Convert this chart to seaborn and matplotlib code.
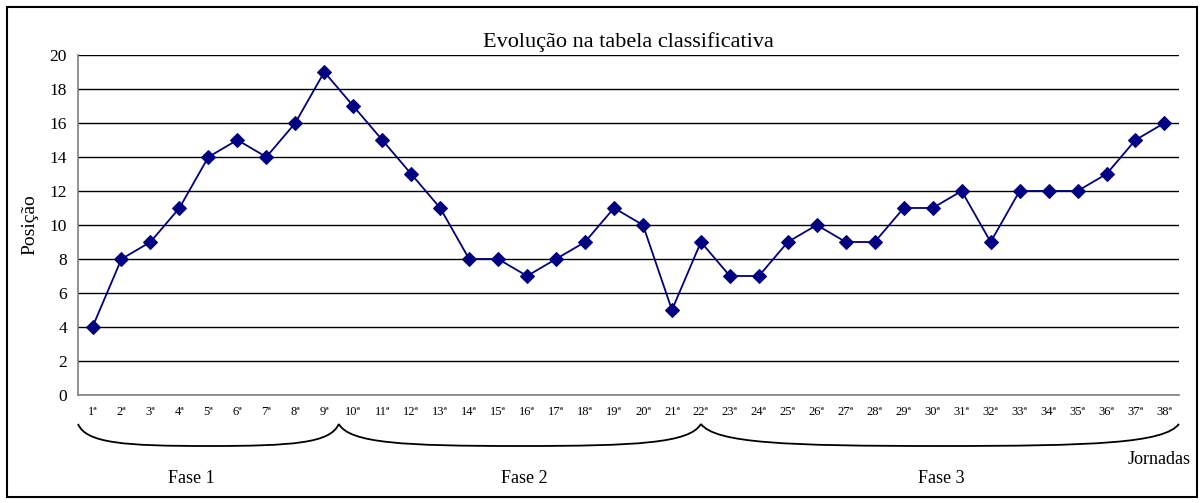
import numpy as np
import pandas as pd
import matplotlib
matplotlib.use("Agg")
import matplotlib.pyplot as plt
import matplotlib.transforms as mtransforms
from matplotlib.path import Path
from matplotlib.patches import PathPatch, Rectangle
import seaborn as sns

# data
jornadas = [f"{i}ª" for i in range(1, 39)]
posicao = [4, 8, 9, 11, 14, 15, 14, 16, 19, 17, 15, 13, 11, 8, 8, 7, 8, 9, 11, 10,
           5, 9, 7, 7, 9, 10, 9, 9, 11, 11, 12, 9, 12, 12, 12, 13, 15, 16]
fases = ["Fase 1", "Fase 2", "Fase 3"]
fase_limites = [(-0.5, 8.5), (8.5, 21), (21, 37.5)]  # brace ends in category units
fase_texto_x = [3.4, 14.9, 29.3]

df = pd.DataFrame({"jornada": np.arange(len(posicao)), "posicao": posicao})

sns.set_style("white")
plt.rcParams["font.family"] = ["Liberation Serif", "DejaVu Serif"]
plt.rcParams["text.color"] = "black"
plt.rcParams["axes.labelcolor"] = "black"
plt.rcParams["xtick.labelcolor"] = "black"
plt.rcParams["ytick.labelcolor"] = "black"

fig = plt.figure(figsize=(12.04, 5.03), dpi=100)
ax = fig.add_axes([0.0648, 0.2147, 0.9144, 0.676])

sns.lineplot(data=df, x="jornada", y="posicao", ax=ax, color="#000080",
             marker="D", markersize=7, markeredgecolor="#000080", linewidth=1.3)

ax.set_xlim(-0.5, len(posicao) - 0.5)
ax.set_ylim(0, 20)
ax.set_yticks(np.arange(0, 21, 2))
ax.yaxis.grid(True, color="black", linewidth=1)
ax.set_axisbelow(True)

# category labels in the middle, tick marks between categories
ax.set_xticks(np.arange(len(jornadas)))
ax.set_xticklabels(jornadas, fontsize=9)
ax.set_xticks(np.arange(-0.5, len(jornadas)), minor=True)
ax.tick_params(axis="x", which="major", length=0, pad=8)
ax.tick_params(axis="x", which="minor", length=4, width=1, color="#808080", direction="out")
ax.tick_params(axis="y", length=5, width=1, color="#808080", direction="out", labelsize=12.5, pad=3)
ax.set_xlabel("")
ax.set_ylabel("Posição", fontsize=14, labelpad=8)

for s in ["top", "right"]:
    ax.spines[s].set_visible(False)
for s in ["left", "bottom"]:
    ax.spines[s].set_color("#808080")
    ax.spines[s].set_linewidth(1.2)

ax.set_title("Evolução na tabela classificativa", fontsize=16, pad=6, color="black")

# braces under the category axis
trans = mtransforms.blended_transform_factory(ax.transData, ax.transAxes)
y_top, y_bot = -0.085, -0.15
for (x0, x1) in fase_limites:
    w = x1 - x0
    verts = [(x0, y_top), (x0 + 0.03 * w, y_bot + 0.008), (x0 + 0.18 * w, y_bot),
             (x0 + 0.5 * w, y_bot),
             (x1 - 0.18 * w, y_bot), (x1 - 0.03 * w, y_bot + 0.008), (x1, y_top)]
    codes = [Path.MOVETO, Path.CURVE4, Path.CURVE4, Path.CURVE4,
             Path.CURVE4, Path.CURVE4, Path.CURVE4]
    ax.add_patch(PathPatch(Path(verts, codes), transform=trans, fill=False,
                           edgecolor="black", linewidth=1.3, clip_on=False))

for nome, xt in zip(fases, fase_texto_x):
    ax.text(xt, -0.245, nome, transform=trans, fontsize=13, ha="center", va="center")

ax.text(1.0105, -0.19, "Jornadas", transform=ax.transAxes, fontsize=13,
        ha="right", va="center")

# chart area border
fig.add_artist(Rectangle((7 / 1204, 6 / 503), 1190 / 1204, 490 / 503,
                         transform=fig.transFigure, fill=False,
                         edgecolor="black", linewidth=1.5))

fig.savefig("out.png", dpi=100)
